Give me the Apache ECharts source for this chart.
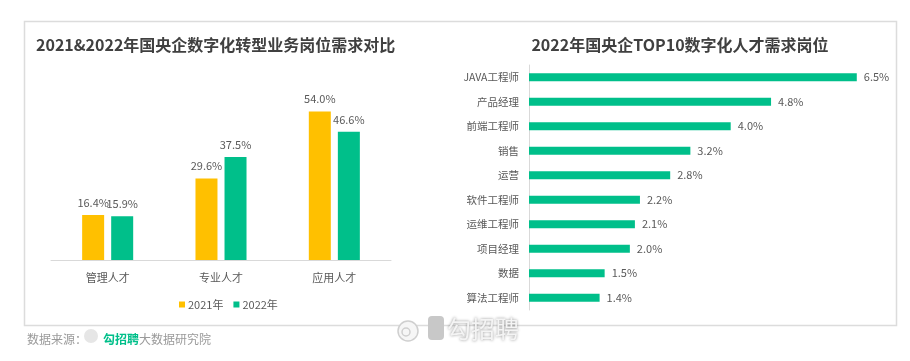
<!DOCTYPE html>
<html>
<head>
<meta charset="utf-8">
<script src="https://cdn.jsdelivr.net/npm/echarts@6/dist/echarts.min.js"></script>
<style>
html,body{margin:0;padding:0;background:#fff;}
#c{width:910px;height:361px;}
</style>
</head>
<body>
<div id="c"></div>
<script>
// Left chart data
const leftCategories = ['管理人才', '专业人才', '应用人才'];
const series2021 = [16.4, 29.6, 54.0];
const series2022 = [15.9, 37.5, 46.6];
const leftSeriesNames = ['2021年', '2022年'];

// Right chart data
const rightCategories = ['JAVA工程师', '产品经理', '前端工程师', '销售', '运营', '软件工程师', '运维工程师', '项目经理', '数据', '算法工程师'];
const rightValues = [6.5, 4.8, 4.0, 3.2, 2.8, 2.2, 2.1, 2.0, 1.5, 1.4];

const leftTitle = '2021&2022年国央企数字化转型业务岗位需求对比';
const rightTitle = '2022年国央企TOP10数字化人才需求岗位';

const FONT = '"Noto Sans CJK SC", "Noto Sans", sans-serif';
const YELLOW = '#FFC000';
const GREEN = '#00BF8A';
const LABEL = '#595959';

const chart = echarts.init(document.getElementById('c'));
chart.setOption({
  animation: false,
  backgroundColor: '#fff',
  textStyle: { fontFamily: FONT },
  graphic: [
    { type: 'rect', shape: { x: 24.5, y: 21.5, width: 872, height: 304 },
      style: { fill: '#fff', stroke: '#dcdcdc', lineWidth: 1.5 }, z: -10 },
    { type: 'text', x: 36, y: 45,
      style: { text: leftTitle, font: 'bold 16px ' + FONT, fill: '#404040', verticalAlign: 'middle' } },
    { type: 'text', x: 680, y: 45,
      style: { text: rightTitle, font: 'bold 16px ' + FONT, fill: '#404040', align: 'center', verticalAlign: 'middle' } },
    { type: 'text', x: 27, y: 339,
      style: {
        text: '{a|数据来源：}{b|勾招聘}{a|大数据研究院}',
        verticalAlign: 'middle',
        rich: {
          a: { fontSize: 12, fill: '#9a9a9a', fontFamily: FONT },
          b: { fontSize: 12, fill: GREEN, fontWeight: 'bold', fontFamily: FONT, padding: [0, 0, 0, 16] }
        }
      } },
    { type: 'circle', shape: { cx: 91, cy: 336, r: 7 }, style: { fill: '#e6e6e6' } },
    { type: 'text', x: 447, y: 329,
      style: { text: '勾招聘', font: '24px ' + FONT, fill: '#f4f4f4', verticalAlign: 'middle',
               textShadowColor: 'rgba(0,0,0,0.45)', textShadowBlur: 3 } },
    { type: 'rect', shape: { x: 428, y: 316, width: 16, height: 24, r: 4 }, style: { fill: '#c8c8c8' } },
    { type: 'circle', shape: { cx: 408, cy: 331, r: 10 }, style: { fill: '#f6f6f6', stroke: '#cfcfcf', lineWidth: 1.5 } },
    { type: 'circle', shape: { cx: 406, cy: 332, r: 4 }, style: { fill: 'none', stroke: '#cfcfcf', lineWidth: 1.5 } }
  ],
  legend: {
    data: leftSeriesNames,
    left: 174, top: 294,
    itemWidth: 6, itemHeight: 6, itemGap: 10,
    icon: 'rect',
    textStyle: { fontSize: 11, color: LABEL, fontFamily: FONT, padding: [0, 0, 0, -2] }
  },
  grid: [
    { left: 51, right: 519, top: 95, bottom: 101 },
    { left: 529, width: 353, top: 65, bottom: 51 }
  ],
  xAxis: [
    { gridIndex: 0, type: 'category', data: leftCategories,
      axisLine: { lineStyle: { color: '#d9d9d9' } }, axisTick: { show: false },
      axisLabel: { color: LABEL, fontSize: 11, margin: 12, fontFamily: FONT } },
    { gridIndex: 1, type: 'value', min: 0, max: 7, show: false, splitLine: { show: false } }
  ],
  yAxis: [
    { gridIndex: 0, type: 'value', min: 0, max: 60, show: false, splitLine: { show: false } },
    { gridIndex: 1, type: 'category', data: rightCategories, inverse: true,
      axisLine: { lineStyle: { color: '#d9d9d9' } }, axisTick: { show: false },
      axisLabel: { color: LABEL, fontSize: 10.5, margin: 10, fontFamily: FONT } }
  ],
  series: [
    { name: leftSeriesNames[0], type: 'bar', xAxisIndex: 0, yAxisIndex: 0, data: series2021,
      barWidth: 22, barGap: '32%', itemStyle: { color: YELLOW },
      label: { show: true, position: 'top', distance: 7, color: LABEL, fontSize: 11, fontFamily: FONT,
               formatter: p => p.value.toFixed(1) + '%' } },
    { name: leftSeriesNames[1], type: 'bar', xAxisIndex: 0, yAxisIndex: 0, data: series2022,
      barWidth: 22, itemStyle: { color: GREEN },
      label: { show: true, position: 'top', distance: 7, color: LABEL, fontSize: 11, fontFamily: FONT,
               formatter: p => p.value.toFixed(1) + '%' } },
    { name: 'TOP10', type: 'bar', xAxisIndex: 1, yAxisIndex: 1, data: rightValues,
      barWidth: 8, itemStyle: { color: GREEN },
      label: { show: true, position: 'right', distance: 7, color: LABEL, fontSize: 11, fontFamily: FONT,
               formatter: p => p.value.toFixed(1) + '%' } }
  ]
});
</script>
</body>
</html>
